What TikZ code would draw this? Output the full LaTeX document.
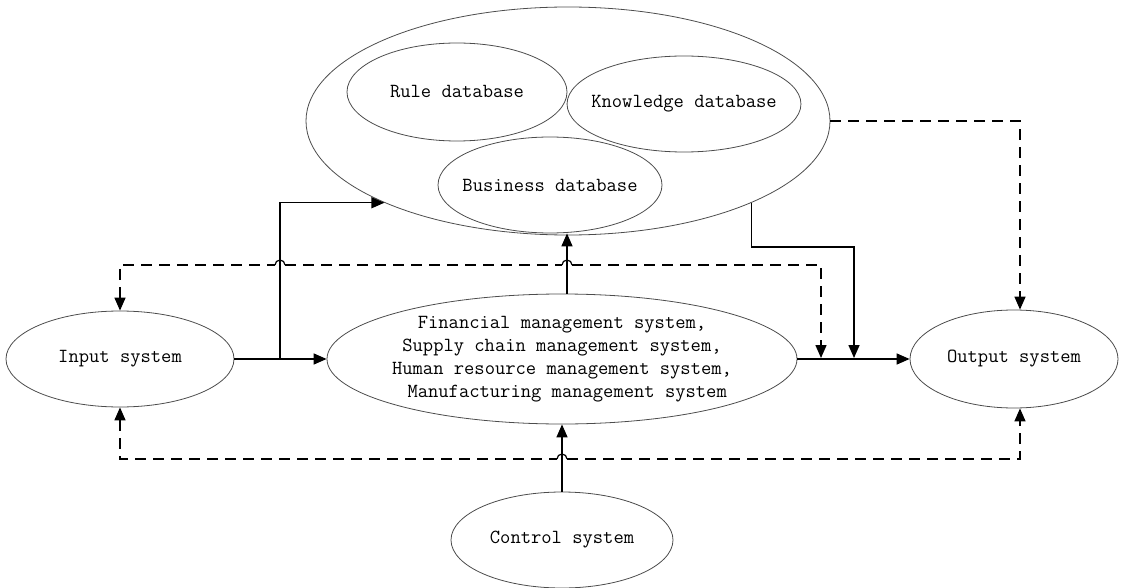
\documentclass[tikz,border=0pt]{standalone}
\usepackage{fontspec}
\usetikzlibrary{shapes.geometric,arrows.meta,calc}
\begin{document}
\begin{tikzpicture}[x=1pt,y=-1pt,
  ell/.style={ellipse,draw=black!70,line width=0.8pt,inner xsep=-10pt,inner ysep=-4pt,
    font=\fontsize{20}{23}\selectfont\ttfamily\addfontfeature{FakeBold=3},align=center},
  arr/.style={line width=1.5pt,-{Triangle[length=13pt,width=11pt]}},
  dsh/.style={line width=1.5pt,dash pattern=on 11pt off 7pt},
  hop/.style={line width=1.2pt}]
\useasboundingbox (0,0) rectangle (1121,588);
% nodes
\node[ell,minimum width=524pt,minimum height=228pt] (big) at (568,121) {};
\node[ell,minimum width=220pt,minimum height=98pt] (rule) at (457,92) {Rule database};
\node[ell,minimum width=232pt,minimum height=96pt] (know) at (684,104) {Knowledge database};
\node[ell,minimum width=224pt,minimum height=96pt] (bus) at (550,185) {Business database};
\node[ell,minimum width=228pt,minimum height=96pt] (in) at (120,359) {Input system};
\node[ell,minimum width=470pt,minimum height=130pt] (mid) at (562,359)
  {Financial management system,\\Supply chain management system,\\Human resource management system,\\\ Manufacturing management system};
\node[ell,minimum width=208pt,minimum height=98pt] (out) at (1014,359) {Output system};
\node[ell,minimum width=222pt,minimum height=96pt] (ctl) at (562,540) {Control system};
% helper coordinates
\coordinate (br) at (280,359);
\coordinate (bx) at (567,0);
\coordinate (knee) at (854,247);
\coordinate (j2) at (854,358);
\coordinate (ox) at (1020,0);
\coordinate (t1) at (120,265);
\coordinate (t2) at (821,265);
\coordinate (j1) at (821,358);
\coordinate (b1) at (120,459);
\coordinate (b2) at (1020,459);
% solid connectors
\draw[arr] (in.east) -- (mid.west);
\draw[arr] (br) |- (big.204);
\draw[arr] (mid.north -| bx) -- (bus.south -| bx);
\draw[arr] (big.-24) |- (knee) -- (j2);
\draw[arr] (mid.east) -- (out.west);
\draw[arr] (ctl.north) -- (mid.south);
% dashed connectors
\draw[dsh,-{Triangle[length=13pt,width=11pt]}] (big.east) -| (out.north -| ox);
\draw[dsh,{Triangle[length=13pt,width=11pt]}-] (in.north) -- (t1) -- ($(br|-t1)+(-5,0)$);
\draw[dsh] ($(br|-t1)+(5,0)$) -- ($(bx|-t1)+(-5,0)$);
\draw[dsh,-{Triangle[length=13pt,width=11pt]}] ($(bx|-t1)+(5,0)$) -- (t2) -- (j1);
\draw[hop] ($(br|-t1)+(-5,0)$) arc (180:360:5);
\draw[hop] ($(bx|-t1)+(-5,0)$) arc (180:360:5);
\draw[dsh,{Triangle[length=13pt,width=11pt]}-] (in.south) -- (b1) -- ($(ctl.north|-b1)+(-5,0)$);
\draw[dsh,-{Triangle[length=13pt,width=11pt]}] ($(ctl.north|-b1)+(5,0)$) -- (b2) -- (out.south -| ox);
\draw[hop] ($(ctl.north|-b1)+(-5,0)$) arc (180:360:5);
\end{tikzpicture}
\end{document}
